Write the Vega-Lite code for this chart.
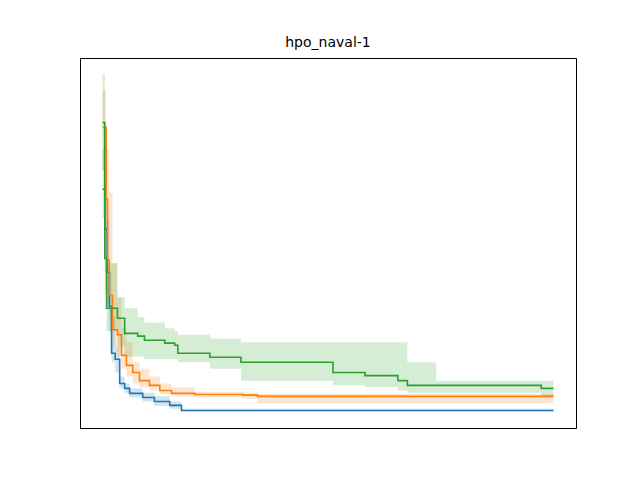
{
  "$schema": "https://vega.github.io/schema/vega-lite/v6.json",
  "width": 496,
  "height": 370,
  "autosize": "none",
  "padding": {"left": 80, "top": 58, "right": 64, "bottom": 52},
  "background": "white",
  "title": {"text": "hpo_naval-1", "fontSize": 14, "fontWeight": "normal", "font": "DejaVu Sans", "offset": 8},
  "data": {
    "values": [
      {"s": "catcma", "x": 0, "y": 0.0027, "lo": 0.0015, "hi": 0.006},
      {"s": "catcma", "x": 5, "y": 0.0012, "lo": 0.0005, "hi": 0.004},
      {"s": "catcma", "x": 10, "y": 0.0005, "lo": 0.00025, "hi": 0.0015},
      {"s": "catcma", "x": 15, "y": 0.00025, "lo": 0.00015, "hi": 0.0005},
      {"s": "catcma", "x": 20, "y": 0.000096, "lo": 0.00008, "hi": 0.0002},
      {"s": "catcma", "x": 28, "y": 0.000085, "lo": 0.000065, "hi": 0.00011},
      {"s": "catcma", "x": 38, "y": 0.000052, "lo": 0.000047, "hi": 0.00006},
      {"s": "catcma", "x": 49, "y": 0.000047, "lo": 0.000043, "hi": 0.000052},
      {"s": "catcma", "x": 60, "y": 0.0000425, "lo": 0.000039, "hi": 0.000047},
      {"s": "catcma", "x": 89, "y": 0.000039, "lo": 0.000036, "hi": 0.000043},
      {"s": "catcma", "x": 115, "y": 0.000036, "lo": 0.000033, "hi": 0.00004},
      {"s": "catcma", "x": 149, "y": 0.0000333, "lo": 0.000031, "hi": 0.000036},
      {"s": "catcma", "x": 175, "y": 0.00003, "lo": 0.0000295, "hi": 0.000031},
      {"s": "catcma", "x": 1000, "y": 0.00003, "lo": 0.0000295, "hi": 0.000031},
      {"s": "cma", "x": 0, "y": 0.0095, "lo": 0.004, "hi": 0.02},
      {"s": "cma", "x": 8, "y": 0.0022, "lo": 0.0008, "hi": 0.007},
      {"s": "cma", "x": 11, "y": 0.00064, "lo": 0.0003, "hi": 0.006},
      {"s": "cma", "x": 15, "y": 0.00031, "lo": 0.0002, "hi": 0.0025},
      {"s": "cma", "x": 22, "y": 0.000155, "lo": 0.00011, "hi": 0.0006},
      {"s": "cma", "x": 33, "y": 0.00014, "lo": 0.00009, "hi": 0.0003},
      {"s": "cma", "x": 42, "y": 0.000092, "lo": 0.00007, "hi": 0.00016},
      {"s": "cma", "x": 53, "y": 0.000075, "lo": 0.00006, "hi": 0.00012},
      {"s": "cma", "x": 67, "y": 0.000065, "lo": 0.000052, "hi": 0.00008},
      {"s": "cma", "x": 82, "y": 0.000055, "lo": 0.000048, "hi": 0.00007},
      {"s": "cma", "x": 104, "y": 0.00005, "lo": 0.000045, "hi": 0.00006},
      {"s": "cma", "x": 127, "y": 0.000045, "lo": 0.000042, "hi": 0.000052},
      {"s": "cma", "x": 153, "y": 0.0000425, "lo": 0.00004, "hi": 0.000048},
      {"s": "cma", "x": 204, "y": 0.0000415, "lo": 0.000039, "hi": 0.000044},
      {"s": "cma", "x": 311, "y": 0.000041, "lo": 0.000038, "hi": 0.000043},
      {"s": "cma", "x": 344, "y": 0.00004, "lo": 0.000035, "hi": 0.000042},
      {"s": "cma", "x": 1000, "y": 0.00004, "lo": 0.000035, "hi": 0.000042},
      {"s": "random", "x": 0, "y": 0.0105, "lo": 0.004, "hi": 0.028},
      {"s": "random", "x": 5, "y": 0.00066, "lo": 0.00035, "hi": 0.003},
      {"s": "random", "x": 9, "y": 0.00024, "lo": 0.00015, "hi": 0.0006},
      {"s": "random", "x": 33, "y": 0.000196, "lo": 0.00011, "hi": 0.0003},
      {"s": "random", "x": 49, "y": 0.000144, "lo": 0.00009, "hi": 0.00024},
      {"s": "random", "x": 78, "y": 0.000136, "lo": 0.00009, "hi": 0.0002},
      {"s": "random", "x": 93, "y": 0.000125, "lo": 0.000085, "hi": 0.00018},
      {"s": "random", "x": 138, "y": 0.000118, "lo": 0.000085, "hi": 0.00016},
      {"s": "random", "x": 160, "y": 0.000113, "lo": 0.000085, "hi": 0.00015},
      {"s": "random", "x": 167, "y": 0.000096, "lo": 0.00008, "hi": 0.00014},
      {"s": "random", "x": 238, "y": 0.0000885, "lo": 0.00007, "hi": 0.00013},
      {"s": "random", "x": 307, "y": 0.00008, "lo": 0.000055, "hi": 0.00012},
      {"s": "random", "x": 511, "y": 0.000065, "lo": 0.00005, "hi": 0.00012},
      {"s": "random", "x": 582, "y": 0.000061, "lo": 0.000048, "hi": 0.00012},
      {"s": "random", "x": 655, "y": 0.000055, "lo": 0.000045, "hi": 0.00012},
      {"s": "random", "x": 676, "y": 0.00005, "lo": 0.000043, "hi": 0.00008},
      {"s": "random", "x": 740, "y": 0.00005, "lo": 0.000043, "hi": 0.000055},
      {"s": "random", "x": 973, "y": 0.000047, "lo": 0.000039, "hi": 0.000055},
      {"s": "random", "x": 1000, "y": 0.000047, "lo": 0.000039, "hi": 0.000055}
    ]
  },
  "layer": [
    {
      "mark": {"type": "area", "interpolate": "step-after", "opacity": 0.2, "clip": true},
      "encoding": {
        "x": {"field": "x", "type": "quantitative", "axis": null},
        "y": {"field": "lo", "type": "quantitative", "axis": null},
        "y2": {"field": "hi"},
        "color": {"field": "s", "type": "nominal", "legend": null}
      }
    },
    {
      "mark": {"type": "line", "interpolate": "step-after", "strokeWidth": 1.6, "clip": true},
      "encoding": {
        "x": {
          "field": "x", "type": "quantitative",
          "scale": {"domain": [-50, 1050], "nice": false, "zero": false},
          "axis": {"title": "Budget", "values": [0, 200, 400, 600, 800, 1000], "format": "d", "grid": false}
        },
        "y": {
          "field": "y", "type": "quantitative",
          "scale": {"type": "log", "domain": [0.000021, 0.039], "nice": false},
          "axis": {
            "title": "Best Value", "grid": false,
            "values": [0.00003, 0.00004, 0.00005, 0.00006, 0.00007, 0.00008, 0.00009, 0.0001, 0.0002, 0.0003, 0.0004, 0.0005, 0.0006, 0.0007, 0.0008, 0.0009, 0.001, 0.002, 0.003, 0.004, 0.005, 0.006, 0.007, 0.008, 0.009, 0.01, 0.02, 0.03],
            "labelExpr": "abs(log(datum.value)/log(10) - round(log(datum.value)/log(10))) > 0.01 ? '' : datum.value < 0.0005 ? '10⁻⁴' : datum.value < 0.005 ? '10⁻³' : '10⁻²'",
            "tickSize": {"condition": {"test": "abs(log(datum.value)/log(10) - round(log(datum.value)/log(10))) > 0.01", "value": 2.5}, "value": 4},
            "labelFontSize": 11
          }
        },
        "color": {
          "field": "s", "type": "nominal",
          "scale": {"domain": ["catcma", "cma", "random"], "range": ["#1f77b4", "#ff7f0e", "#2ca02c"]},
          "legend": {
            "title": null, "orient": "top-right", "symbolType": "stroke", "symbolStrokeWidth": 2,
            "symbolSize": 400, "labelFontSize": 11, "strokeColor": "#cccccc", "padding": 7,
            "fillColor": "white", "cornerRadius": 3, "offset": 6, "rowPadding": 5
          }
        }
      }
    }
  ],
  "config": {
    "font": "DejaVu Sans",
    "view": {"stroke": "black", "strokeWidth": 1},
    "axis": {
      "domainColor": "black", "tickColor": "black", "labelColor": "black", "titleColor": "black",
      "labelFontSize": 10, "titleFontSize": 10, "titleFontWeight": "normal", "tickSize": 4, "labelPadding": 3
    }
  }
}
